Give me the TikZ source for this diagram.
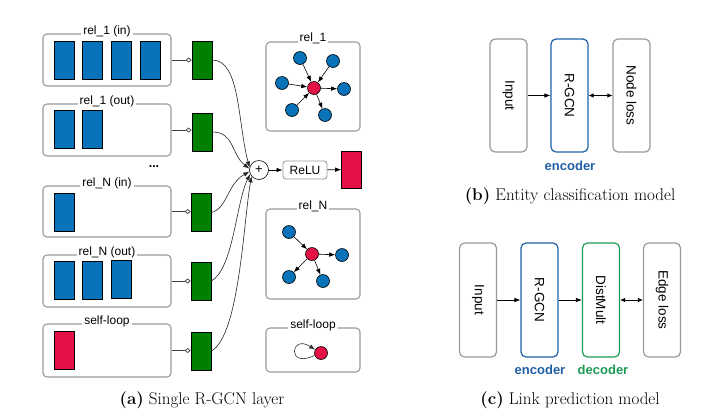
\documentclass[tikz,border=0pt]{standalone}
\usepackage{fontspec}
\newfontfamily\lsans{Liberation Sans}
\usetikzlibrary{arrows.meta}
\definecolor{bluef}{HTML}{0873B9}
\definecolor{greenf}{HTML}{008000}
\definecolor{redf}{HTML}{E31145}
\definecolor{grayb}{HTML}{9A9A9A}
\definecolor{encblue}{HTML}{1F5FA5}
\definecolor{decgreen}{HTML}{1E9A55}
\begin{document}
\begin{tikzpicture}[x=1pt,y=-1pt,
  relbox/.style={draw=grayb, line width=1.1pt, rounded corners=4pt, minimum width=128pt, minimum height=52pt, inner sep=0pt},
  gbox/.style={draw=grayb, line width=1.1pt, rounded corners=4pt, inner sep=0pt},
  boxlab/.style={fill=white, inner sep=2pt, font=\lsans\fontsize{12}{14}\selectfont},
  brect/.style={draw=black, fill=bluef, line width=0.7pt, minimum width=20pt, minimum height=38pt, inner sep=0pt},
  rrect/.style={brect, fill=redf},
  grect/.style={brect, fill=greenf},
  bnode/.style={circle, draw=black, line width=0.6pt, fill=bluef, minimum size=13pt, inner sep=0pt},
  rnode/.style={bnode, fill=redf},
  garr/.style={line width=0.6pt, -{Latex[length=6pt,width=4.5pt]}},
  conn/.style={line width=0.7pt, black!75, -{Diamond[open,fill=white,length=6pt,width=5pt]}},
  curv/.style={line width=0.6pt, black!85, -{Latex[length=6pt,width=4.5pt]}},
  pbox/.style={draw=grayb, line width=1.2pt, rounded corners=5pt, minimum width=37pt, minimum height=113pt, inner sep=0pt},
  ptext/.style={rotate=-90, font=\lsans\fontsize{13.5}{16}\selectfont},
  parr/.style={line width=0.7pt, -{Latex[length=6pt,width=4.5pt]}},
  pdarr/.style={line width=0.7pt, {Latex[length=5pt,width=4.5pt]}-{Latex[length=5pt,width=4.5pt]}},
  tag/.style={font=\lsans\bfseries\fontsize{13}{15}\selectfont},
  capt/.style={font=\fontsize{17}{20}\selectfont}
]
\useasboundingbox (0,0) rectangle (725,416);

% ---------- (a) left boxes ----------
\node[relbox] (B1) at (107,60) {};
\node[boxlab] (L1) at (107,31) {rel\_1 (in)};
\node[brect] (B1a) at (64,60) {};
\node[brect] (B1b) at (92,60) {};
\node[brect] (B1c) at (121,60) {};
\node[brect] (B1d) at (150,60) {};

\node[relbox] (B2) at (107,130) {};
\node[boxlab] (L2) at (107,101) {rel\_1 (out)};
\node[brect] (B2a) at (64,129.5) {};
\node[brect] (B2b) at (92,129.5) {};

\node (dots) at (154,167) {\lsans\bfseries\fontsize{12.5}{14}\selectfont ...};

\node[relbox, minimum height=51pt] (B3) at (107,211.5) {};
\node[boxlab] (L3) at (107,183) {rel\_N (in)};
\node[brect] (B3a) at (64,212) {};

\node[relbox] (B4) at (107,281) {};
\node[boxlab] (L4) at (107,252) {rel\_N (out)};
\node[brect] (B4a) at (64,280.5) {};
\node[brect] (B4b) at (92,280.5) {};
\node[brect] (B4c) at (121,279.5) {};

\node[relbox, minimum height=53pt] (B5) at (107,350.5) {};
\node[boxlab] (L5) at (107,321) {self-loop};
\node[rrect] (B5a) at (64,350.5) {};

% green boxes
\node[grect] (G1) at (202,60) {};
\node[grect] (G2) at (202,132) {};
\node[grect] (G3) at (201,212.5) {};
\node[grect] (G4) at (201,281) {};
\node[grect] (G5) at (201,351) {};

\draw[conn] (B1.east) -- (G1.west);
\draw[conn] (B2.east) -- (G2.west |- B2.east);
\draw[conn] (B3.east) -- (G3.west |- B3.east);
\draw[conn] (B4.east) -- (G4.west |- B4.east);
\draw[conn] (B5.east) -- (G5.west |- B5.east);

% plus, relu, output
\node[circle, draw=black, line width=0.6pt, minimum size=19pt, inner sep=0pt, font=\lsans\fontsize{13}{15}\selectfont] (P) at (259,170) {+};
\node[draw=grayb, line width=0.9pt, rounded corners=3pt, minimum width=44pt, minimum height=18pt, inner sep=0pt, font=\lsans\fontsize{12}{14}\selectfont] (R) at (305,170) {ReLU};
\node[rrect, minimum height=37pt] (O) at (351.5,169.5) {};
\draw[parr, line width=0.6pt] (P) -- (R);
\draw[parr, line width=0.6pt] (R) -- (O);

\draw[curv] (G1.east) .. controls +(28,0) and +(-12,-45) .. (P.165);
\draw[curv] (G2.east) .. controls +(22,0) and +(-18,-14) .. (P.172);
\draw[curv] (G3.east) .. controls +(16,-4) and +(-22,12) .. (P.190);
\draw[curv] (G4.east) .. controls +(22,-12) and +(-14,28) .. (P.205);
\draw[curv] (G5.east) .. controls +(28,-15) and +(-8,45) .. (P.220);

% ---------- graph boxes ----------
\node[gbox, minimum width=94pt, minimum height=89pt] (GR1) at (313,86.5) {};
\node[boxlab] (GL1) at (313,38) {rel\_1};
\node[rnode] (r1) at (314,88) {};
\node[bnode] (a1) at (300,58) {};
\node[bnode] (a2) at (333,61) {};
\node[bnode] (a3) at (282,83) {};
\node[bnode] (a4) at (344,89) {};
\node[bnode] (a5) at (292,110) {};
\node[bnode] (a6) at (325,115) {};
\draw[garr] (a1) -- (r1);
\draw[garr] (a2) -- (r1);
\draw[garr] (a3) -- (r1);
\draw[garr] (r1) -- (a4);
\draw[garr] (a5) -- (r1);
\draw[garr] (r1) -- (a6);

\node[gbox, minimum width=94pt, minimum height=90pt] (GR2) at (313,254) {};
\node[boxlab] (GL2) at (313,206) {rel\_N};
\node[rnode] (rN) at (312,254) {};
\node[bnode] (c1) at (289,232) {};
\node[bnode] (c2) at (342,255) {};
\node[bnode] (c3) at (289,277) {};
\node[bnode] (c4) at (323,281) {};
\draw[garr] (c1) -- (rN);
\draw[garr] (rN) -- (c2);
\draw[garr] (rN) -- (c3);
\draw[garr] (rN) -- (c4);

\node[gbox, minimum width=94pt, minimum height=44pt] (GR3) at (313,350) {};
\node[boxlab] (GL3) at (313,325) {self-loop};
\node[rnode] (s) at (321,353) {};
\draw[garr, black!80] (s.200) .. controls +(-28,14) and +(-25,-16) .. (s.150);

\node[capt] (CA) at (202,400) {\textbf{(a)} Single R-GCN layer};

% ---------- (b) ----------
\node[pbox, label={[ptext]center:Input}] (bI) at (508.5,95.5) {};
\node[pbox, draw=encblue, label={[ptext]center:R-GCN}] (bR) at (569.5,95.5) {};
\node[pbox, label={[ptext]center:Node loss}] (bN) at (631.5,95.5) {};
\draw[parr] (bI.east) -- (bR.west);
\draw[pdarr] (bR.east) -- (bN.west);
\node[tag, text=encblue] (bE) at (570,166) {encoder};
\node[capt] (CB) at (570,196) {\textbf{(b)} Entity classification model};

% ---------- (c) ----------
\node[pbox, minimum height=114pt, label={[ptext]center:Input}] (cI) at (478,300) {};
\node[pbox, minimum height=114pt, draw=encblue, label={[ptext]center:R-GCN}] (cR) at (539.5,300) {};
\node[pbox, minimum height=114pt, draw=decgreen, label={[ptext]center:DistMult}] (cD) at (601,300) {};
\node[pbox, minimum height=114pt, label={[ptext]center:Edge loss}] (cL) at (662,300) {};
\draw[parr] (cI.east) -- (cR.west);
\draw[parr] (cR.east) -- (cD.west);
\draw[pdarr] (cD.east) -- (cL.west);
\node[tag, text=encblue] (cE) at (540,370) {encoder};
\node[tag, text=decgreen] (cDe) at (603,370) {decoder};
\node[capt] (CC) at (570,400) {\textbf{(c)} Link prediction model};
\end{tikzpicture}
\end{document}
